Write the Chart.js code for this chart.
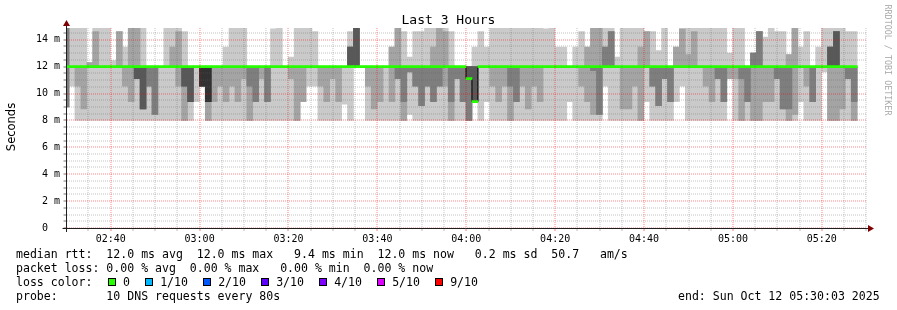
<!DOCTYPE html>
<html lang="en">
<head>
<meta charset="utf-8" />
<title>Last 3 Hours</title>
<script src="https://cdn.jsdelivr.net/npm/chart.js@4.4.1/dist/chart.umd.min.js"></script>
<style>
  * { box-sizing: border-box; }
  body { margin: 0; background: #fff; }
  .wrap {
    position: relative;
    width: 897px;
    height: 310px;
    overflow: hidden;
    font-family: "DejaVu Sans Mono", monospace;
    color: #000;
  }
  canvas { position: absolute; left: 0; top: 0; }
  .t { position: absolute; left: 16px; white-space: pre; font-size: 11.55px; line-height: 14px; }
  .title { position: absolute; left: 0; width: 897px; top: 12px; text-align: center; font-size: 13px; line-height: 15px; white-space: pre; }
  .ylabel {
    position: absolute; left: 11px; top: 127px; width: 80px; margin-left: -40px; margin-top: -7px;
    font-family: "DejaVu Sans", sans-serif; font-size: 11.5px; line-height: 14px; text-align: center;
    transform: rotate(-90deg);
  }
  .credit {
    position: absolute; left: 888px; top: 60px; width: 140px; margin-left: -70px; margin-top: -5px;
    font-size: 8.4px; line-height: 10px; text-align: center; color: #aaa; white-space: pre;
    transform: rotate(90deg);
  }
  .box { position: absolute; width: 8px; height: 8px; border: 1px solid #000; }
</style>
</head>
<body>
<div class="wrap" id="wrap">
  <canvas id="chart" width="897" height="310"></canvas>
  <div class="title">Last 3 Hours</div>
  <div class="ylabel">Seconds</div>
  <div class="credit">RRDTOOL / TOBI OETIKER</div>
  <div class="t" style="top:247px">median rtt:  12.0 ms avg  12.0 ms max   9.4 ms min  12.0 ms now   0.2 ms sd  50.7   am/s</div>
  <div class="t" style="top:261px">packet loss: 0.00 % avg  0.00 % max   0.00 % min  0.00 % now</div>
  <div class="t" style="top:275px">loss color:</div>
  <div class="t" style="top:289px">probe:       10 DNS requests every 80s</div>
  <div class="t" style="top:289px; left:678px">end: Sun Oct 12 05:30:03 2025</div>
</div>
<script>
  // time axis in minutes after midnight
  const viewStart = 150.05; // 02:30:03
  const viewEnd = 330.05; // 05:30:03
  const firstSlot = 149.279; // start of the first 80 s step (partly left of the view)
  const stepMinutes = 80 / 60;

  const xTickLabels = ["02:40", "03:00", "03:20", "03:40", "04:00", "04:20", "04:40", "05:00", "05:20"];
  const yTickValues = [0, 2, 4, 6, 8, 10, 12, 14];
  const yTickLabels = ["0  ", "2 m", "4 m", "6 m", "8 m", "10 m", "12 m", "14 m"];
  const yMax = 14.87;

  const lossLabels = ["0", "1/10", "2/10", "3/10", "4/10", "5/10", "9/10"];
  const lossColors = ["#26ff00", "#00b8ff", "#0059ff", "#5e00ff", "#7e00ff", "#dd00ff", "#ff0000"];

  // ten sorted DNS rtts (ms) per 80 s step
  const pings = [
    [9.0, 9.0, 9.0, 12, 12, 12, 12, 14.87, 14.87, 14.87],
    [10.55, 12, 12, 12, 12, 12, 12, 12, 12, 14.87],
    [8, 10.55, 12, 12, 12, 12, 12, 12, 12, 14.87],
    [8, 8.85, 12, 12, 12, 12, 12, 12, 12, 14.87],
    [8, 12, 12, 12, 12, 12, 12, 12, 12.3, 12.3],
    [8, 12, 12, 12, 12, 12, 12, 12, 14.6, 14.87],
    [8, 12, 12, 12, 12, 12, 12, 12, 12, 14.87],
    [8, 12, 12, 12, 12, 12, 12, 12, 12, 14.87],
    [8, 12, 12, 12, 12, 12, 12, 12, 12, 12.45],
    [8, 12, 12, 12, 12, 12, 12, 12, 14.6, 14.6],
    [8, 10.55, 12, 12, 12, 12, 12, 12, 12, 13.45],
    [8, 9.4, 12, 12, 12, 12, 12, 12, 14.87, 14.87],
    [8, 11.1, 11.1, 11.1, 12, 12, 12, 12, 14.87, 14.87],
    [8, 8.85, 8.85, 8.85, 12, 12, 12, 12, 12, 14.87],
    [8, 10.55, 10.55, 12, 12, 12, 12, 12, 12, 12],
    [8, 8.45, 8.45, 12, 12, 12, 12, 12, 12, 12],
    [8, 12, 12, 12, 12, 12, 12, 12, 12, 12],
    [8, 12, 12, 12, 12, 12, 12, 12, 12, 14.87],
    [8, 12, 12, 12, 12, 12, 12, 12, 13.45, 14.87],
    [8, 10.55, 12, 12, 12, 12, 12, 12, 14.6, 14.87],
    [8, 8, 10.55, 10.55, 12, 12, 12, 12, 12, 14.6],
    [8, 9.4, 9.4, 9.4, 12, 12, 12, 12, 12, 12],
    [9.4, 12, 12, 12, 12, 12, 12, 12, 12, 12],
    [10.55, 10.55, 10.55, 10.55, 10.55, 12, 12, 12, 12, 12],
    [8, 8, 9.4, 9.4, 9.4, 12, 12, 12, 12, 12],
    [8, 9.4, 12, 12, 12, 12, 12, 12, 12, 12],
    [8, 10.55, 12, 12, 12, 12, 12, 12, 12, 12],
    [8, 9.4, 12, 12, 12, 12, 12, 12, 12, 13.45],
    [8, 10.55, 12, 12, 12, 12, 12, 12, 12, 14.87],
    [8, 9.4, 12, 12, 12, 12, 12, 12, 12, 14.87],
    [8, 11.1, 12, 12, 12, 12, 12, 12, 12, 14.87],
    [8, 8, 10.55, 12, 12, 12, 12, 12, 12, 12],
    [8, 9.4, 9.4, 12, 12, 12, 12, 12, 12, 12],
    [8, 11.1, 12, 12, 12, 12, 12, 12, 12, 12],
    [8, 9.4, 9.4, 12, 12, 12, 12, 12, 12, 12],
    [8, 12, 12, 12, 12, 12, 12, 12, 12, 14.8],
    [8, 12, 12, 12, 12, 12, 12, 12, 12, 14.87],
    [8, 12, 12, 12, 12, 12, 12, 12, 12, 12],
    [8, 11.1, 12, 12, 12, 12, 12, 12, 12, 12.7],
    [8, 8, 12, 12, 12, 12, 12, 12, 12, 14.87],
    [9.4, 9.4, 12, 12, 12, 12, 12, 12, 12, 14.87],
    [10.55, 12, 12, 12, 12, 12, 12, 12, 12, 14.87],
    [10.55, 12, 12, 12, 12, 12, 12, 12, 12, 14.6],
    [8, 10.55, 12, 12, 12, 12, 12, 12, 12, 12],
    [8, 9.4, 12, 12, 12, 12, 12, 12, 12, 12],
    [8, 11.1, 12, 12, 12, 12, 12, 12, 12, 12],
    [8, 9.4, 12, 12, 12, 12, 12, 12, 12, 12],
    [9.2, 12, 12, 12, 12, 12, 12, 12, 12, 12],
    [8, 12, 12, 12, 12, 12, 13.45, 13.45, 13.45, 14.6],
    [12, 12, 12, 12, 12, 12, 14.87, 14.87, 14.87, 14.87],
    [12, 12, 12, 12, 12, 12, 12, 12, 12, 12],
    [8, 10.55, 12, 12, 12, 12, 12, 12, 12, 12],
    [8, 8.85, 12, 12, 12, 12, 12, 12, 12, 12],
    [8, 9.4, 12, 12, 12, 12, 12, 12, 12, 12],
    [8, 12, 12, 12, 12, 12, 12, 12, 12, 12],
    [8, 9.4, 12, 12, 12, 12, 12, 12, 13.45, 13.45],
    [8, 11.1, 11.1, 12, 12, 12, 12, 12, 14.87, 14.87],
    [8, 8, 9.4, 12, 12, 12, 12, 12, 12, 14.6],
    [8.45, 11.6, 11.6, 12, 12, 12, 12, 12, 12, 12.7],
    [8, 10.55, 10.55, 12, 12, 12, 12, 12, 12, 14.6],
    [8, 9.1, 9.1, 12, 12, 12, 12, 12, 12, 14.6],
    [8, 10.55, 10.55, 12, 12, 12, 12, 12, 12, 14.87],
    [8, 9.4, 9.4, 12, 12, 12, 12, 12, 13.45, 14.87],
    [8, 10.55, 10.55, 12, 12, 12, 12, 12, 14.87, 14.87],
    [8, 10.55, 12, 12, 12, 12, 12, 12, 14.6, 14.87],
    [8, 8, 9.4, 12, 12, 12, 12, 12, 12, 14.6],
    [8, 11.1, 11.1, 12, 12, 12, 12, 12, 12, 12],
    [8, 9.4, 9.4, 12, 12, 12, 12, 12, 12, 12],
    [8, 8, 8, 11.1, 11.1, 11.1, 12, 12, 12, 12],
    [9.4, 9.4, 9.4, 9.4, 9.4, 9.4, 12, 12, 12, 13.45],
    [8, 12, 12, 12, 12, 12, 12, 12, 12, 14.6],
    [9.4, 12, 12, 12, 12, 12, 12, 12, 12, 13.45],
    [8, 10.55, 12, 12, 12, 12, 12, 12, 12, 14.87],
    [8, 9.4, 12, 12, 12, 12, 12, 12, 12, 14.87],
    [8, 10.55, 12, 12, 12, 12, 12, 12, 12, 14.87],
    [8, 8, 10.55, 12, 12, 12, 12, 12, 12, 14.87],
    [8, 9.4, 9.4, 12, 12, 12, 12, 12, 12, 14.87],
    [8, 10.55, 12, 12, 12, 12, 12, 12, 12, 14.87],
    [8, 8.85, 12, 12, 12, 12, 12, 12, 12, 14.87],
    [8, 10.55, 12, 12, 12, 12, 12, 12, 12, 14.87],
    [8, 9.4, 12, 12, 12, 12, 12, 12, 12, 14.87],
    [8, 12, 12, 12, 12, 12, 12, 12, 12, 14.8],
    [8, 12, 12, 12, 12, 12, 12, 12, 12, 14.87],
    [8, 12, 12, 12, 12, 12, 12, 12, 12, 13.45],
    [8, 12, 12, 12, 12, 12, 12, 12, 12, 13.45],
    [9.4, 12, 12, 12, 12, 12, 12, 12, 12, 12],
    [8, 12, 12, 12, 12, 12, 12, 12, 12, 13.45],
    [8, 10.55, 12, 12, 12, 12, 12, 12, 12, 14.6],
    [8, 9.4, 12, 12, 12, 12, 12, 12, 13.45, 13.45],
    [8, 8.45, 11.7, 12, 12, 12, 12, 12, 14.87, 14.87],
    [8, 8.45, 8.45, 12, 12, 12, 12, 12, 14.87, 14.87],
    [10.55, 12, 12, 12, 12, 12, 12, 13.45, 13.45, 14.87],
    [8, 12, 12, 12, 12, 12, 12, 14.6, 14.6, 14.87],
    [8, 12, 12, 12, 12, 12, 12, 12, 12, 12.7],
    [8, 8.85, 12, 12, 12, 12, 12, 12, 12, 14.87],
    [8, 8.85, 12, 12, 12, 12, 12, 12, 12, 14.87],
    [8, 10.55, 12, 12, 12, 12, 12, 12, 12, 14.87],
    [8, 8, 12, 12, 12, 12, 12, 12, 13.45, 14.87],
    [9.4, 12, 12, 12, 12, 12, 12, 12, 14.6, 14.6],
    [8, 10.55, 10.55, 12, 12, 12, 12, 12, 12, 14.6],
    [8, 9.1, 9.1, 12, 12, 12, 12, 12, 12, 13.2],
    [8, 11.1, 11.1, 12, 12, 12, 12, 12, 12, 14.87],
    [8, 9.4, 9.4, 12, 12, 12, 12, 12, 12, 12],
    [9.4, 12, 12, 12, 12, 12, 12, 12, 13.45, 13.45],
    [10.55, 12, 12, 12, 12, 12, 12, 12, 14.8, 14.8],
    [8, 12, 12, 12, 12, 12, 12, 12, 12.9, 14.87],
    [8, 12, 12, 12, 12, 12, 12, 12, 14.6, 14.87],
    [8, 12, 12, 12, 12, 12, 12, 12, 12, 14.87],
    [8, 10.55, 12, 12, 12, 12, 12, 12, 12, 14.87],
    [8, 9.4, 12, 12, 12, 12, 12, 12, 12, 14.87],
    [8, 11.1, 11.1, 12, 12, 12, 12, 12, 12, 14.87],
    [8, 9.4, 9.4, 12, 12, 12, 12, 12, 12, 14.87],
    [11.1, 11.1, 12, 12, 12, 12, 12, 12, 12, 13.0],
    [8, 11.1, 12, 12, 12, 12, 12, 12, 12, 14.87],
    [8, 8, 11.1, 12, 12, 12, 12, 12, 12, 14.87],
    [8, 9.4, 9.4, 12, 12, 12, 12, 12, 12, 12],
    [8, 8, 12, 12, 12, 12, 12, 13.0, 13.0, 13.0],
    [8, 8, 12, 12, 12, 12, 12, 14.6, 14.6, 14.6],
    [8, 9.4, 12, 12, 12, 12, 12, 12, 12, 14.2],
    [8, 9.4, 12, 12, 12, 12, 12, 12, 12, 14.87],
    [8, 11.1, 11.1, 12, 12, 12, 12, 12, 12, 14.6],
    [8, 8.85, 8.85, 12, 12, 12, 12, 12, 12, 14.6],
    [8, 8, 8.85, 12, 12, 12, 12, 12, 12.9, 12.9],
    [8, 8.45, 12, 12, 12, 12, 12, 12, 14.87, 14.87],
    [9.4, 12, 12, 12, 12, 12, 12, 12, 12, 13.45],
    [8, 10.55, 12, 12, 12, 12, 12, 12, 12, 14.6],
    [8, 9.4, 9.4, 12, 12, 12, 12, 12, 12, 12],
    [8, 12, 12, 12, 12, 12, 12, 12, 12, 13.45],
    [11.6, 12, 12, 12, 12, 12, 12, 12, 12, 14.87],
    [8, 8, 12, 12, 12, 12, 13.45, 13.45, 13.45, 14.87],
    [8, 8, 12, 12, 12, 12, 14.6, 14.6, 14.6, 14.87],
    [8, 8.85, 12, 12, 12, 12, 12, 12, 12, 14.87],
    [8, 11.1, 11.1, 12, 12, 12, 12, 12, 12, 14.6],
    [8, 8, 9.4, 12, 12, 12, 12, 12, 12, 14.6],
    null,
    null,
  ];

  // median rtt (ms) per step; all steps had 0 packet loss
  const median = [
    12, 12, 12, 12, 12, 12, 12, 12, 12, 12,
    12, 12, 12, 12, 12, 12, 12, 12, 12, 12,
    12, 12, 12, 12, 12, 12, 12, 12, 12, 12,
    12, 12, 12, 12, 12, 12, 12, 12, 12, 12,
    12, 12, 12, 12, 12, 12, 12, 12, 12, 12,
    12, 12, 12, 12, 12, 12, 12, 12, 12, 12,
    12, 12, 12, 12, 12, 12, 12, 12, 11.1, 9.4,
    12, 12, 12, 12, 12, 12, 12, 12, 12, 12,
    12, 12, 12, 12, 12, 12, 12, 12, 12, 12,
    12, 12, 12, 12, 12, 12, 12, 12, 12, 12,
    12, 12, 12, 12, 12, 12, 12, 12, 12, 12,
    12, 12, 12, 12, 12, 12, 12, 12, 12, 12,
    12, 12, 12, 12, 12, 12, 12, 12, 12, 12,
    12, 12, 12, 12, null, null,
  ];

  const SMOKE_COLORS = ["#cacaca", "#a4a4a4", "#7e7e7e", "#585858", "#323232"];
  // rrdtool-style grid, spread over two pixel rows like its unaligned 1px lines
  const MAJOR_GRID = "rgba(255, 0, 0, 0.24)";
  const MINOR_GRID = "rgba(94, 94, 94, 0.19)";
  const MONO = "'DejaVu Sans Mono', monospace";

  const toMinutes = (s) => Number(s.slice(0, 2)) * 60 + Number(s.slice(3, 5));
  const xLabelAt = new Map(xTickLabels.map((s) => [toMinutes(s), s]));
  const yLabelAt = new Map(yTickValues.map((v, i) => [v, yTickLabels[i]]));

  const xGrid = [];
  for (let m = 155; m <= 330; m += 5) xGrid.push(m);
  const yGrid = [];
  for (let v = 0; v <= 14.5; v += 0.5) yGrid.push(v);

  const slotX = pings.map((_, i) => firstSlot + (i + 0.5) * stepMinutes);

  // smoke: pair k spans the k-th fastest to the k-th slowest ping
  const smokeSets = SMOKE_COLORS.map((color, k) => ({
    type: "bar",
    label: "smoke " + (k + 1),
    data: pings.map((p, i) => ({
      x: slotX[i],
      y: p && p[k] !== p[9 - k] ? [p[k], p[9 - k]] : null,
    })),
    backgroundColor: color,
    borderWidth: 0,
    grouped: false,
    barPercentage: 1,
    categoryPercentage: 1,
    order: 10 - k,
  }));

  const medianEdge = {
    type: "line",
    label: "median edge",
    data: median.map((m, i) => ({ x: slotX[i], y: m })),
    borderColor: "#000",
    borderWidth: 1,
    stepped: "middle",
    pointRadius: 0,
    spanGaps: false,
    order: 1,
  };

  const medianLine = {
    type: "bar",
    label: "median rtt",
    data: median.map((m, i) => ({ x: slotX[i], y: m === null ? null : [m - 0.08, m + 0.08] })),
    backgroundColor: lossColors[0],
    borderWidth: 0,
    grouped: false,
    barPercentage: 1,
    categoryPercentage: 1,
    order: 0,
  };

  const axisArrows = {
    id: "axisArrows",
    afterDraw(chart) {
      const { ctx, chartArea: a } = chart;
      const yAxis = Math.round(a.bottom) + 0.5;
      const xAxis = Math.floor(a.left) + 0.5;
      ctx.save();
      ctx.strokeStyle = "#1f1f1f";
      ctx.lineWidth = 1;
      ctx.beginPath();
      ctx.moveTo(a.left - 4, yAxis);
      ctx.lineTo(a.right + 2, yAxis);
      ctx.moveTo(xAxis, a.bottom + 4);
      ctx.lineTo(xAxis, a.top - 3);
      ctx.stroke();
      ctx.fillStyle = "#800000";
      ctx.beginPath();
      ctx.moveTo(a.right + 1.5, yAxis - 3.5);
      ctx.lineTo(a.right + 7.5, yAxis);
      ctx.lineTo(a.right + 1.5, yAxis + 3.5);
      ctx.closePath();
      ctx.fill();
      ctx.beginPath();
      ctx.moveTo(xAxis - 3.5, a.top - 2);
      ctx.lineTo(xAxis, a.top - 8);
      ctx.lineTo(xAxis + 3.5, a.top - 2);
      ctx.closePath();
      ctx.fill();
      ctx.restore();
    },
  };

  new Chart(document.getElementById("chart"), {
    type: "bar",
    data: { datasets: [...smokeSets, medianEdge, medianLine] },
    plugins: [axisArrows],
    options: {
      responsive: false,
      animation: false,
      devicePixelRatio: 1,
      layout: { padding: { left: 0, right: 30.5, top: 28, bottom: 0 } },
      plugins: { legend: { display: false }, tooltip: { enabled: false } },
      scales: {
        x: {
          type: "linear",
          min: viewStart,
          max: viewEnd,
          offset: false,
          afterBuildTicks(scale) {
            scale.ticks = xGrid.map((v) => ({ value: v }));
          },
          afterFit(scale) {
            scale.height = 82;
          },
          grid: {
            offset: false,
            z: 1,
            lineWidth: 2,
            color: (c) => (c.tick && c.tick.value % 20 === 0 ? MAJOR_GRID : MINOR_GRID),
            tickLength: 3,
            tickWidth: 1,
            tickColor: (c) => (c.tick && c.tick.value % 20 === 0 ? "#f08080" : "#bbb"),
          },
          border: { display: false, dash: [1, 1] },
          ticks: {
            autoSkip: false,
            maxRotation: 0,
            padding: 2,
            color: "#000",
            font: { family: MONO, size: 10 },
            callback: (v) => xLabelAt.get(v) || "",
          },
        },
        y: {
          min: 0,
          max: yMax,
          afterBuildTicks(scale) {
            scale.ticks = yGrid.map((v) => ({ value: v }));
          },
          afterFit(scale) {
            scale.width = 66.5;
          },
          grid: {
            z: 1,
            lineWidth: 2,
            color: (c) => {
              const v = c.tick ? c.tick.value : 0;
              if (v === 12) return "rgba(0, 0, 0, 0)";
              return v % 2 === 0 ? MAJOR_GRID : MINOR_GRID;
            },
            tickLength: 3,
            tickWidth: 1,
            tickColor: "#777",
          },
          border: { display: false, dash: [1, 1] },
          ticks: {
            autoSkip: false,
            padding: 3.5,
            color: "#000",
            font: { family: MONO, size: 10 },
            callback: (v) => (yLabelAt.has(v) ? yLabelAt.get(v) : ""),
          },
        },
      },
    },
  });

  // loss colour legend boxes
  const wrap = document.getElementById("wrap");
  let lx = 108;
  lossLabels.forEach((label, i) => {
    const box = document.createElement("div");
    box.className = "box";
    box.style.left = lx + "px";
    box.style.top = "278px";
    box.style.background = lossColors[i];
    wrap.appendChild(box);
    const text = document.createElement("div");
    text.className = "t";
    text.style.left = lx + 15 + "px";
    text.style.top = "275px";
    text.textContent = label;
    wrap.appendChild(text);
    lx += 15 + label.length * 6.95 + 15.2;
  });
</script>
</body>
</html>
